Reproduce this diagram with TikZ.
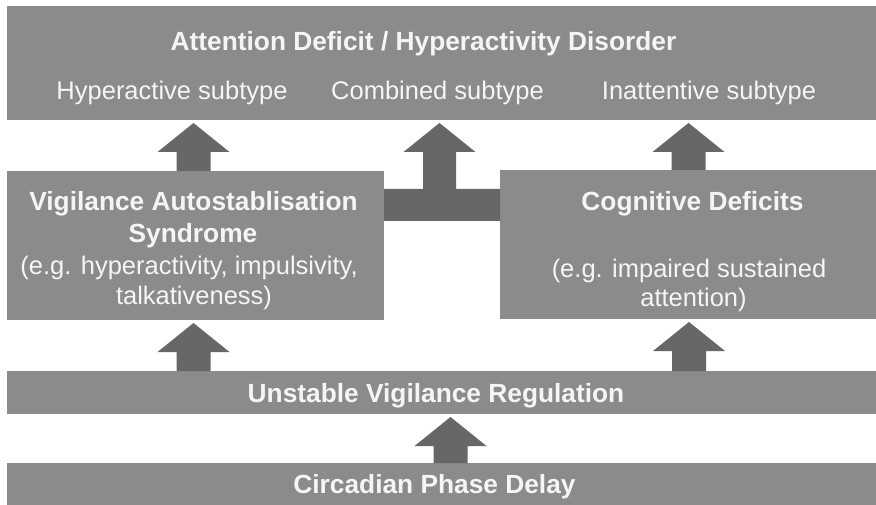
\documentclass[tikz,border=0pt]{standalone}
\usepackage{fontspec}
\setmainfont{Liberation Sans}
\usetikzlibrary{calc}
\definecolor{boxgray}{RGB}{139,139,139}
\definecolor{arrgray}{RGB}{103,103,103}
\definecolor{txtwhite}{RGB}{245,245,245}
\newcommand\blockarr[3]{%
  \fill[arr] let \p1=(#2), \p2=(#3) in
    (#1pt-17pt,\y1) -- (#1pt-17pt,\y2-32pt) -- (#1pt-36pt,\y2-32pt) --
    (#1pt,\y2-3pt) -- (#1pt+36pt,\y2-32pt) -- (#1pt+17pt,\y2-32pt) --
    (#1pt+17pt,\y1) -- cycle;}
\begin{document}
\begin{tikzpicture}[x=1pt,y=-1pt,
  box/.style={fill=boxgray, draw=none, inner sep=0pt, outer sep=0pt, anchor=north west},
  btxt/.style={text=txtwhite, font=\fontsize{26.3}{31}\selectfont\bfseries, anchor=base, inner sep=0pt},
  rtxt/.style={text=txtwhite, font=\fontsize{25.5}{31}\selectfont, anchor=base, inner sep=0pt},
  arr/.style={fill=arrgray, draw=none}]
\useasboundingbox[fill=white] (0,0) rectangle (876,505);
% boxes
\node[box, minimum width=869pt, minimum height=114pt] (adhd) at (7,6) {};
\node[box, minimum width=377pt, minimum height=149pt] (vas) at (7,171) {};
\node[box, minimum width=376pt, minimum height=149pt] (cog) at (500,170) {};
\node[box, minimum width=869pt, minimum height=43pt] (uvr) at (7,371) {};
\node[box, minimum width=869pt, minimum height=42pt] (cpd) at (7,463) {};
% block arrows
\blockarr{193.5}{vas.north}{adhd.south}
\blockarr{688.5}{cog.north}{adhd.south}
\blockarr{193.5}{uvr.north}{vas.south}
\blockarr{689}{uvr.north}{cog.south}
\blockarr{450.5}{cpd.north}{uvr.south}
% T connector
\coordinate (tb1) at (0,189);
\coordinate (tb2) at (0,221);
\fill[arr] (vas.east |- tb1) -- (423,189) -- (423,152) -- (403.5,152) -- (439.5,123)
  -- (475.5,152) -- (456,152) -- (456,189) -- (cog.west |- tb1)
  -- (cog.west |- tb2) -- (vas.east |- tb2) -- cycle;
% texts
\node[btxt] (tadhd) at (423.5,51) {Attention Deficit / Hyperactivity Disorder};
\node[rtxt] (thyp) at (172,100) {Hyperactive subtype};
\node[rtxt] (tcomb) at (437.5,100) {Combined subtype};
\node[rtxt] (tinat) at (709,100) {Inattentive subtype};
\node[btxt] (tvas1) at (193.5,211) {Vigilance Autostablisation};
\node[btxt] (tvas2) at (193,243) {Syndrome};
\node[rtxt] (tvas3) at (189,275) {(e.g. hyperactivity, impulsivity,};
\node[rtxt] (tvas4) at (194,305) {talkativeness)};
\node[btxt] (tcog1) at (692.5,211) {Cognitive Deficits};
\node[rtxt] (tcog2) at (689,277) {(e.g. impaired sustained};
\node[rtxt] (tcog3) at (693.5,307) {attention)};
\node[btxt] (tuvr) at (436,402) {Unstable Vigilance Regulation};
\node[btxt] (tcpd) at (434.5,493) {Circadian Phase Delay};
\end{tikzpicture}
\end{document}
